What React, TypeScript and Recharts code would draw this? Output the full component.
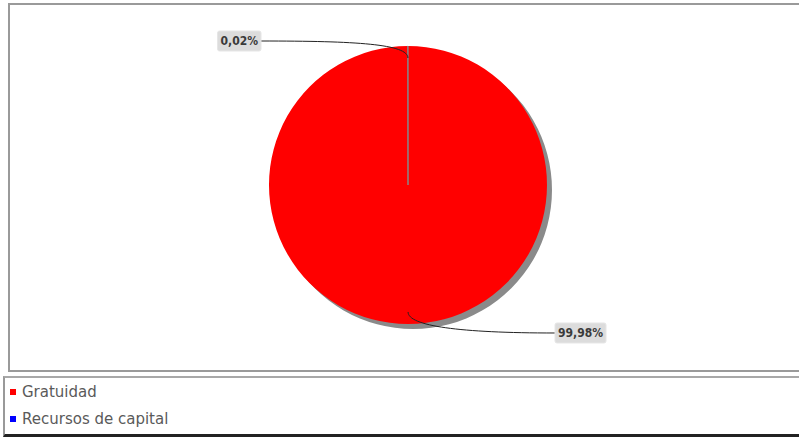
import { PieChart, Pie, Cell } from "recharts";

const categories = ["Gratuidad", "Recursos de capital"];
const shares = [99.98, 0.02];
const colors = ["#ff0000", "#0000ff"];

const data = categories.map((name, i) => ({ name, value: shares[i] }));

const RADIAN = Math.PI / 180;

const renderLabel = (props: any) => {
  const { cx, cy, midAngle, outerRadius, percent, index } = props;
  const cos = Math.cos(-midAngle * RADIAN);
  const sin = Math.sin(midAngle * RADIAN);
  const side = cos >= 0 ? 1 : -1;
  const ax = cx + (outerRadius - 12) * cos;
  const ay = cy - (outerRadius - 12) * sin;
  const edgeX = cx + side * (outerRadius + 8);
  // labels sit a little lower than the slice edge, like the original
  const ly = cy - sin * (outerRadius + 7) + 2;
  const text = (percent * 100).toFixed(2).replace(".", ",") + "%";
  const w = text.length * 7.5 + 6;
  const h = 20;
  const boxX = side > 0 ? edgeX : edgeX - w;
  const dx = edgeX - ax;
  const path = `M${edgeX},${ly} C${ax + dx * 0.35},${ly} ${ax},${ay - sin * 14} ${ax},${ay}`;
  return (
    <g key={`lbl-${index}`}>
      <path d={path} fill="none" stroke="#222" strokeWidth={1} />
      <rect x={boxX} y={ly - h / 2} width={w} height={h} rx={2} fill="#dcdcdc" stroke="#e6e6e6" />
      <text
        x={boxX + w / 2}
        y={ly + 4}
        textAnchor="middle"
        fontSize={12}
        fontWeight="bold"
        fontFamily="'DejaVu Sans Condensed', 'DejaVu Sans', sans-serif"
        fill="#3a3a3a"
      >
        {text}
      </text>
    </g>
  );
};

export default function App() {
  return (
    <div style={{ position: "relative", width: 799, height: 438, overflow: "hidden", background: "#fff" }}>
      <style>{"body{margin:0}"}</style>
      <div
        style={{
          position: "absolute",
          left: 8,
          top: 3,
          width: 900,
          height: 365,
          border: "2px solid #9a9a9a",
        }}
      />
      <div
        style={{
          position: "absolute",
          left: 3,
          top: 376,
          width: 900,
          height: 56,
          borderLeft: "2px solid #999",
          borderTop: "2px solid #a8a8a8",
          borderBottom: "3px solid #222",
        }}
      />
      <div style={{ position: "absolute", left: 0, top: 0 }}>
        <PieChart width={799} height={438} margin={{ top: 0, right: 0, bottom: 0, left: 0 }}>
          <Pie
            data={data}
            dataKey="value"
            cx={413}
            cy={190}
            outerRadius={139}
            startAngle={90}
            endAngle={-270}
            fill="#8a8a8a"
            stroke="none"
            isAnimationActive={false}
          />
          <Pie
            data={data}
            dataKey="value"
            cx={408}
            cy={185}
            outerRadius={139}
            startAngle={90}
            endAngle={-270}
            label={renderLabel}
            labelLine={false}
            isAnimationActive={false}
          >
            {data.map((d, i) => (
              <Cell
                key={d.name}
                fill={colors[i]}
                stroke={i === 0 ? "none" : "#888"}
                strokeWidth={1}
              />
            ))}
          </Pie>
        </PieChart>
      </div>
      {categories.map((name, i) => (
        <div
          key={name}
          style={{
            position: "absolute",
            left: 10,
            top: 382 + i * 27,
            height: 20,
            display: "flex",
            alignItems: "center",
            fontFamily: "'DejaVu Sans', sans-serif",
            fontSize: 15,
            color: "#5a5a5a",
          }}
        >
          <span style={{ display: "inline-block", width: 6, height: 6, background: colors[i], marginRight: 6 }} />
          {name}
        </div>
      ))}
    </div>
  );
}
